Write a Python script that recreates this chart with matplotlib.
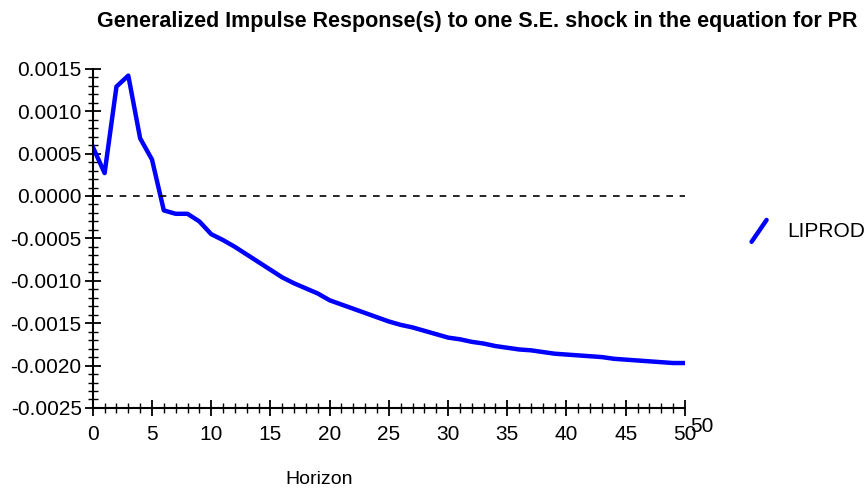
import numpy as np
import matplotlib
matplotlib.use("Agg")
import matplotlib.pyplot as plt
from matplotlib.lines import Line2D
from matplotlib.legend_handler import HandlerBase
from matplotlib.ticker import MultipleLocator, FormatStrFormatter

# impulse response
horizon = list(range(0, 51))
liprod = [0.00058, 0.00027, 0.00129, 0.00142, 0.00068, 0.00043, -0.00017, -0.00021,
          -0.00021, -0.00030, -0.00045, -0.00052, -0.00060, -0.00069, -0.00078,
          -0.00087, -0.00096, -0.00103, -0.00109, -0.00115, -0.00123, -0.00128,
          -0.00133, -0.00138, -0.00143, -0.00148, -0.00152, -0.00155, -0.00159,
          -0.00163, -0.00167, -0.00169, -0.00172, -0.00174, -0.00177, -0.00179,
          -0.00181, -0.00182, -0.00184, -0.00186, -0.00187, -0.00188, -0.00189,
          -0.00190, -0.00192, -0.00193, -0.00194, -0.00195, -0.00196, -0.00197,
          -0.00197]
series_name = "LIPROD"


class DiagHandler(HandlerBase):
    # draws the legend key as a short slanted stroke
    def create_artists(self, legend, orig, xd, yd, w, h, fontsize, trans):
        ln = Line2D([xd + 0.3 * w, xd + 0.75 * w], [yd - 0.3 * h, yd + 1.2 * h],
                    color=orig.get_color(), lw=orig.get_linewidth(),
                    solid_capstyle="round", transform=trans)
        return [ln]


plt.rcParams['font.family'] = ['Liberation Sans', 'DejaVu Sans']

fig = plt.figure(figsize=(8.67, 4.88), dpi=100)
ax = fig.add_axes([0.107, 0.164, 0.683, 0.695])

ln, = ax.plot(horizon, liprod, color="#0000ff", lw=3.2, label=series_name)
ax.plot([horizon[0], horizon[-1]], [0, 0], color="black", lw=1.2, ls=(0, (4, 4)))

ax.set_xlim(0, 50)
ax.set_ylim(-0.0025, 0.0015)
ax.xaxis.set_major_locator(MultipleLocator(5))
ax.xaxis.set_minor_locator(MultipleLocator(1))
ax.yaxis.set_major_locator(MultipleLocator(0.0005))
ax.yaxis.set_minor_locator(MultipleLocator(0.0001))
ax.yaxis.set_major_formatter(FormatStrFormatter("%.4f"))

for s in ["top", "right"]:
    ax.spines[s].set_visible(False)
for s in ["left", "bottom"]:
    ax.spines[s].set_linewidth(1.5)

ax.tick_params(which="major", direction="inout", length=12, width=1.3, labelsize=15)
ax.tick_params(axis="x", which="major", pad=6)
ax.tick_params(axis="y", which="major", pad=2)
ax.tick_params(which="minor", direction="inout", length=7, width=1.0)

ax.set_xlabel("Horizon", fontsize=14, labelpad=20, x=0.383)
fig.text(0.809, 0.125, "50", fontsize=15, ha="center", va="center")

ax.set_title("Generalized Impulse Response(s) to one S.E. shock in the equation for PR",
             fontsize=15.5, fontweight="bold", x=0.649, y=1.1)

ax.legend(handles=[ln], handler_map={ln: DiagHandler()}, loc="center left",
          bbox_to_anchor=(1.064, 0.519), frameon=False, fontsize=15,
          handlelength=1.6, handletextpad=0.6)

fig.savefig("out.png", dpi=100)
